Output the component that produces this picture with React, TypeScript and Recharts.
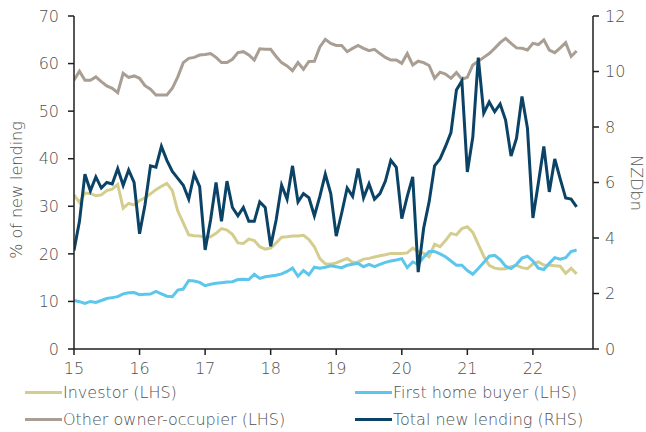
import React from 'react';
import { LineChart, Line, XAxis, YAxis } from 'recharts';

const yearLabels = ['15', '16', '17', '18', '19', '20', '21', '22'];
const leftTicks = [0, 10, 20, 30, 40, 50, 60, 70];
const rightTicks = [0, 2, 4, 6, 8, 10, 12];

const investor = [
  32.4, 30.8, 32.8, 32.7, 32.2, 32.4, 33.3, 33.6, 34.6, 29.6, 30.6, 30.3,
  31.2, 31.8, 32.6, 33.5, 34.2, 34.8, 33.3, 29.0, 26.5, 24.0, 23.8, 23.75,
  23.5, 23.6, 24.3, 25.3, 25.0, 24.1, 22.3, 22.2, 23.1, 22.8, 21.5, 21.0,
  21.2, 22.3, 23.5, 23.6, 23.75, 23.75, 23.9, 23.0, 21.5, 19.0, 17.9, 17.8,
  18.1, 18.6, 19.05, 18.2, 18.3, 18.9, 19.05, 19.35, 19.6, 19.8, 20.1, 20.1,
  20.1, 20.2, 21.2, 20.5, 20.1, 19.4, 22.0, 21.5, 22.8, 24.3, 24.0, 25.3,
  25.7, 24.5, 22.0, 19.5, 17.6, 17.0, 16.8, 16.85, 17.3, 17.6, 17.1, 16.9,
  17.9, 18.3, 17.65, 17.6, 17.5, 17.4, 15.9, 16.95, 15.8,
];

const firstHomeBuyer = [
  10.2, 9.95, 9.6, 10.0, 9.8, 10.2, 10.6, 10.8, 11.0, 11.6, 11.8, 11.85,
  11.4, 11.5, 11.55, 12.1, 11.6, 11.1, 11.0, 12.4, 12.6, 14.4, 14.3, 14.0,
  13.3, 13.6, 13.8, 13.95, 14.1, 14.15, 14.6, 14.65, 14.6, 15.7, 14.85, 15.2,
  15.35, 15.5, 15.8, 16.3, 17.0, 15.3, 16.5, 15.6, 17.2, 17.0, 17.2, 17.5,
  17.3, 17.1, 17.6, 17.8, 18.0, 17.3, 17.8, 17.3, 17.8, 18.2, 18.5, 18.7,
  19.0, 17.1, 18.3, 17.8, 19.3, 20.5, 20.5, 20.0, 19.4, 18.5, 17.6, 17.6,
  16.5, 15.7, 16.9, 18.2, 19.5, 19.7, 18.8, 17.4, 16.9, 17.8, 19.1, 19.5,
  18.5, 17.0, 16.7, 18.0, 19.2, 18.9, 19.2, 20.5, 20.8,
];

const otherOwnerOccupier = [
  56.5, 58.4, 56.5, 56.5, 57.2, 56.2, 55.3, 54.8, 53.9, 57.95, 57.1, 57.4,
  56.9, 55.35, 54.6, 53.4, 53.4, 53.4, 54.8, 57.2, 60.2, 61.1, 61.3, 61.8,
  61.9, 62.1, 61.3, 60.2, 60.2, 60.9, 62.3, 62.5, 61.8, 60.75, 63.1, 63.0,
  63.0, 61.5, 60.2, 59.5, 58.5, 60.2, 58.8, 60.45, 60.5, 63.5, 65.1, 64.25,
  63.8, 63.8, 62.5, 63.2, 63.8, 63.2, 62.7, 63.0, 62.1, 61.3, 60.75, 60.75,
  60.05, 62.1, 59.7, 60.5, 60.2, 59.6, 56.9, 58.2, 57.8, 56.9, 58.1, 56.7,
  57.1, 59.7, 60.5, 61.3, 62.1, 63.2, 64.4, 65.3, 64.25, 63.3, 63.2, 62.85,
  64.25, 64.0, 65.0, 62.85, 62.3, 63.3, 64.4, 61.5, 62.65,
];

const totalNewLending = [
  3.55, 4.6, 6.3, 5.7, 6.2, 5.8, 6.0, 5.95, 6.5, 5.9, 6.45, 6.0,
  4.15, 5.2, 6.6, 6.55, 7.3, 6.8, 6.4, 6.15, 5.9, 5.4, 6.3, 5.85,
  3.57, 4.65, 6.0, 4.6, 6.05, 5.1, 4.8, 5.1, 4.6, 4.6, 5.3, 5.1,
  3.7, 4.65, 5.9, 5.4, 6.6, 5.3, 5.6, 5.45, 4.8, 5.5, 6.3, 5.6,
  4.07, 4.9, 5.8, 5.5, 6.5, 5.45, 5.95, 5.4, 5.6, 6.05, 6.8, 6.55,
  4.7, 5.5, 6.2, 2.77, 4.35, 5.3, 6.6, 6.85, 7.3, 7.8, 9.33, 9.66,
  6.38, 7.64, 10.5, 8.5, 8.9, 8.55, 8.83, 8.25, 6.95, 7.6, 9.1, 7.96,
  4.72, 5.98, 7.3, 5.66, 6.85, 6.13, 5.44, 5.4, 5.12,
];

const seriesNames = {
  investor: 'Investor (LHS)',
  firstHomeBuyer: 'First home buyer (LHS)',
  otherOwnerOccupier: 'Other owner-occupier (LHS)',
  totalNewLending: 'Total new lending (RHS)',
};

const COLORS = {
  investor: '#D5CD8D',
  firstHomeBuyer: '#5CC6EC',
  otherOwnerOccupier: '#A99E93',
  totalNewLending: '#0B4366',
};

const data = totalNewLending.map((v, i) => ({
  m: i,
  investor: investor[i],
  firstHomeBuyer: firstHomeBuyer[i],
  otherOwnerOccupier: otherOwnerOccupier[i],
  totalNewLending: v,
}));

const xTicks = yearLabels.map((_, i) => i * 12);

const FONT = "'DejaVu Sans', sans-serif";
const WEIGHT = 200;
const TEXT = '#505050';
const AXIS = '#1f1f1f';

const tickStyle = { fill: TEXT, fontSize: 16, fontFamily: FONT, fontWeight: WEIGHT };

function LegendItem({ color, label, left, top }: { color: string; label: string; left: number; top: number }) {
  return (
    <div style={{ position: 'absolute', left, top, height: 24, display: 'flex', alignItems: 'center' }}>
      <div style={{ width: 37, height: 3, background: color, marginRight: 1 }} />
      <span style={{ fontFamily: FONT, fontWeight: WEIGHT, fontSize: 16, color: TEXT, whiteSpace: 'nowrap' }}>{label}</span>
    </div>
  );
}

export default function App() {
  return (
    <div style={{ position: 'absolute', left: 0, top: 0, width: 646, height: 432, background: '#fff' }}>
      <LineChart
        width={646}
        height={432}
        data={data}
        margin={{ top: 16, right: 8, bottom: 53, left: 24 }}
      >
        <XAxis
          dataKey="m"
          type="number"
          domain={[0, 95]}
          ticks={xTicks}
          tickFormatter={(v: number) => yearLabels[Math.round(v / 12)]}
          tick={tickStyle}
          tickLine={{ stroke: AXIS, strokeWidth: 1.5 }}
          axisLine={{ stroke: AXIS, strokeWidth: 1.5 }}
          tickSize={6}
          tickMargin={8}
          height={30}
          allowDataOverflow
        />
        <YAxis
          yAxisId="left"
          orientation="left"
          domain={[0, 70]}
          ticks={leftTicks}
          tick={tickStyle}
          tickLine={{ stroke: AXIS, strokeWidth: 1.5 }}
          axisLine={{ stroke: AXIS, strokeWidth: 1.5 }}
          tickSize={6}
          tickMargin={9}
          width={50}
        />
        <YAxis
          yAxisId="right"
          orientation="right"
          domain={[0, 12]}
          ticks={rightTicks}
          tick={tickStyle}
          tickLine={{ stroke: AXIS, strokeWidth: 1.5 }}
          axisLine={{ stroke: AXIS, strokeWidth: 1.5 }}
          tickSize={6}
          tickMargin={6}
          width={45}
        />
        <Line yAxisId="left" type="linear" dataKey="investor" name={seriesNames.investor} stroke={COLORS.investor} strokeWidth={3} dot={false} isAnimationActive={false} />
        <Line yAxisId="left" type="linear" dataKey="firstHomeBuyer" name={seriesNames.firstHomeBuyer} stroke={COLORS.firstHomeBuyer} strokeWidth={3} dot={false} isAnimationActive={false} />
        <Line yAxisId="left" type="linear" dataKey="otherOwnerOccupier" name={seriesNames.otherOwnerOccupier} stroke={COLORS.otherOwnerOccupier} strokeWidth={3} dot={false} isAnimationActive={false} />
        <Line yAxisId="right" type="linear" dataKey="totalNewLending" name={seriesNames.totalNewLending} stroke={COLORS.totalNewLending} strokeWidth={3} dot={false} isAnimationActive={false} />
      </LineChart>

      <div style={{ position: 'absolute', left: 16, top: 190, transform: 'translate(-50%, -50%) rotate(-90deg)', fontFamily: FONT, fontWeight: WEIGHT, fontSize: 16, color: TEXT, whiteSpace: 'nowrap' }}>
        % of new lending
      </div>
      <div style={{ position: 'absolute', left: 636, top: 183, transform: 'translate(-50%, -50%) rotate(90deg)', fontFamily: FONT, fontWeight: WEIGHT, fontSize: 16, color: TEXT, whiteSpace: 'nowrap' }}>
        NZDbn
      </div>

      <LegendItem color={COLORS.investor} label={seriesNames.investor} left={25} top={380} />
      <LegendItem color={COLORS.firstHomeBuyer} label={seriesNames.firstHomeBuyer} left={355} top={380} />
      <LegendItem color={COLORS.otherOwnerOccupier} label={seriesNames.otherOwnerOccupier} left={25} top={407} />
      <LegendItem color={COLORS.totalNewLending} label={seriesNames.totalNewLending} left={355} top={407} />
    </div>
  );
}
